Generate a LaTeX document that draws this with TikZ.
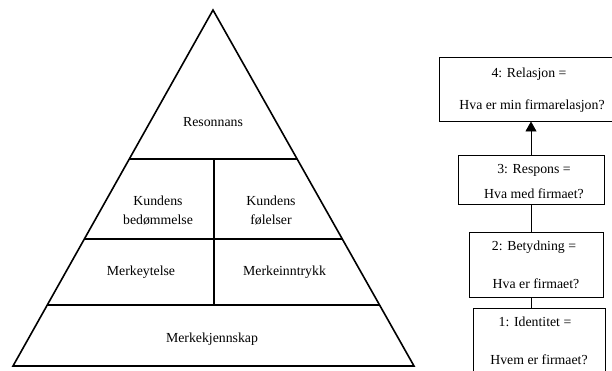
\documentclass[tikz,border=0pt]{standalone}
\usepackage{fontspec}
\setmainfont{Liberation Serif}
\usetikzlibrary{arrows.meta,calc}
\begin{document}
\begin{tikzpicture}[x=1pt,y=-1pt,
  lbl/.style={anchor=base, inner sep=0pt, font=\fontsize{13.8}{16}\selectfont},
  pyr/.style={line width=1.6pt, line join=miter},
  fbox/.style={draw, line width=0.9pt, inner sep=0pt},
  conn/.style={line width=0.9pt}]
\useasboundingbox (0,0) rectangle (612,370);
\clip (0,0) rectangle (612,370);
% pyramid
\coordinate (apex) at (213,10);
\coordinate (bl) at (13,366);
\coordinate (br) at (414,366);
\draw[pyr] (apex) -- (br) -- (bl) -- cycle;
\draw[pyr] ($(apex)!0.4185!(bl)$) -- ($(apex)!0.4185!(br)$);
\draw[pyr] ($(apex)!0.6433!(bl)$) -- ($(apex)!0.6433!(br)$);
\draw[pyr] ($(apex)!0.8287!(bl)$) -- ($(apex)!0.8287!(br)$);
\coordinate (vtop) at (214,159);
\coordinate (vbot) at (214,305);
\draw[pyr] (vtop) -- (vbot);
\node[lbl] (res) at (213,126) {Resonnans};
\node[lbl] (kb1) at (158,205) {Kundens};
\node[lbl] (kb2) at (158,224) {bedømmelse};
\node[lbl] (kf1) at (271,205) {Kundens};
\node[lbl] (kf2) at (271,224) {følelser};
\node[lbl] (my) at (141,275) {Merkeytelse};
\node[lbl] (mi) at (284.5,275) {Merkeinntrykk};
\node[lbl] (mk) at (212,342) {Merkekjennskap};
% boxes
\node[fbox, minimum width=186pt, minimum height=64pt] (b4) at (532,89) {};
\node[fbox, minimum width=146pt, minimum height=49pt] (b3) at (531,179.5) {};
\node[fbox, minimum width=134pt, minimum height=65pt] (b2) at (536,264.5) {};
\node[fbox, minimum width=132pt, minimum height=65pt] (b1) at (539,340.5) {};
\node[lbl] (t4a) at (529,77) {4: Relasjon =};
\node[lbl] (t4b) at (532,109) {Hva er min firmarelasjon?};
\node[lbl] (t3a) at (534,173) {3: Respons =};
\node[lbl] (t3b) at (534,198) {Hva med firmaet?};
\node[lbl] (t2a) at (534,250) {2: Betydning =};
\node[lbl] (t2b) at (536,288) {Hva er firmaet?};
\node[lbl] (t1a) at (535,326) {1: Identitet =};
\node[lbl] (t1b) at (539,364) {Hvem er firmaet?};
% connectors
\draw[conn, -{Triangle[width=11pt,length=10pt]}] (b3.north) -- (b3.north |- b4.south);
\draw[conn] (b3.south) -- (b2.north -| b3.south);
\draw[conn] (b2.south -| b3.south) -- (b1.north -| b3.south);
\end{tikzpicture}
\end{document}
